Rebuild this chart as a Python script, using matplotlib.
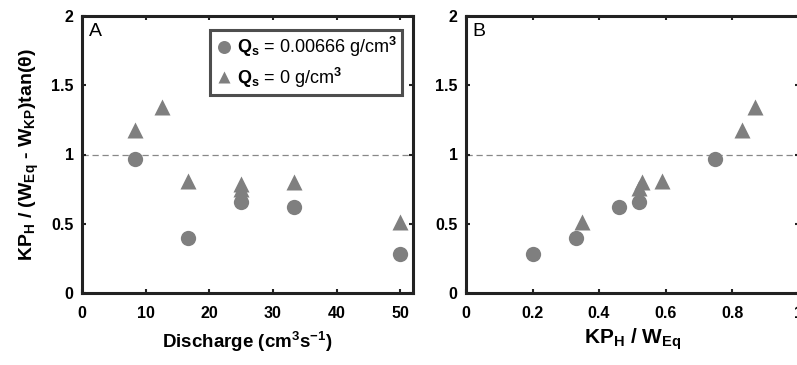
import matplotlib
matplotlib.use("Agg")
import matplotlib.pyplot as plt

plt.rcParams['font.family'] = ['Liberation Sans', 'DejaVu Sans']
plt.rcParams['font.weight'] = 'bold'
plt.rcParams['axes.labelweight'] = 'bold'
plt.rcParams['mathtext.fontset'] = 'custom'
plt.rcParams['mathtext.rm'] = 'Liberation Sans'
plt.rcParams['mathtext.it'] = 'Liberation Sans:bold'
plt.rcParams['mathtext.bf'] = 'Liberation Sans:bold'

# Panel A data: discharge vs ratio
discharge_circ = [8.3, 16.7, 25.0, 33.3, 50.0]
ratio_circ = [0.97, 0.40, 0.66, 0.62, 0.28]
discharge_tri = [8.3, 12.5, 16.7, 25.0, 25.0, 33.3, 50.0]
ratio_tri = [1.18, 1.34, 0.81, 0.79, 0.75, 0.80, 0.51]

# Panel B data: KP_H / W_Eq vs ratio
kpw_circ = [0.20, 0.33, 0.46, 0.52, 0.75]
ratioB_circ = [0.28, 0.40, 0.62, 0.66, 0.97]
kpw_tri = [0.35, 0.52, 0.53, 0.59, 0.83, 0.87]
ratioB_tri = [0.51, 0.76, 0.80, 0.81, 1.18, 1.34]

xticksA = [0, 10, 20, 30, 40, 50]
xticksB = [0, 0.2, 0.4, 0.6, 0.8, 1]
xticklabelsB = ['0', '0.2', '0.4', '0.6', '0.8', '1']
yticks = [0, 0.5, 1, 1.5, 2]
yticklabels = ['0', '0.5', '1', '1.5', '2']

legend_labels = [r'$\mathbf{Q_s}$ = 0.00666 g/cm$^\mathrm{3}$', r'$\mathbf{Q_s}$ = 0 g/cm$^\mathrm{3}$']

grey = '#7f7f7f'
spine_c = '#222222'

fig = plt.figure(figsize=(7.97, 3.65), dpi=100)
axA = fig.add_axes([82/797, 72/365, (413-82)/797, (293-16)/365])
axB = fig.add_axes([466/797, 72/365, (798.5-466)/797, (293-16)/365])

def style(ax):
    for s in ax.spines.values():
        s.set_linewidth(2.2)
        s.set_color(spine_c)
    ax.tick_params(direction='in', length=3, width=1.5, top=True, right=True,
                   labelsize=11.5, color=spine_c)
    ax.tick_params(axis='x', pad=9)
    ax.tick_params(axis='y', pad=6)
    ax.set_ylim(0, 2)
    ax.set_yticks(yticks)
    ax.set_yticklabels(yticklabels)
    ax.axhline(1, color='#888888', lw=0.9, ls=(0, (5, 3)), zorder=1)

def bold_ticks(ax):
    for t in ax.get_xticklabels() + ax.get_yticklabels():
        t.set_fontweight('bold')

ms_c = 11
ms_t = 11
axA.plot(discharge_circ, ratio_circ, 'o', color=grey, ms=ms_c, mec='none', label=legend_labels[0], zorder=3)
axA.plot(discharge_tri, ratio_tri, '^', color=grey, ms=ms_t, mec='none', label=legend_labels[1], zorder=3)
style(axA)
axA.set_xlim(0, 52)
axA.set_xticks(xticksA)
bold_ticks(axA)
axA.set_xlabel(r'Discharge (cm$^\mathbf{3}$s$^\mathbf{-1}$)', fontsize=13.5, fontweight='bold', labelpad=7)
axA.set_ylabel(r'KP$_\mathbf{H}$ / (W$_\mathbf{Eq}$ - W$_\mathbf{KP}$)tan($\mathbf{\theta}$)', fontsize=14,
               fontweight='bold', labelpad=7)
axA.text(0.02, 0.975, 'A', transform=axA.transAxes, fontsize=14, fontweight='normal', va='top', ha='left')
leg = axA.legend(loc='upper right', bbox_to_anchor=(0.967, 0.95), prop={'size': 13, 'weight': 'normal'},
                 frameon=True, fancybox=False, handletextpad=0.2, borderpad=0.3, labelspacing=0.35,
                 handlelength=1.0, markerscale=0.85, borderaxespad=0)
leg.get_frame().set_edgecolor(spine_c)
leg.get_frame().set_linewidth(2.2)

axB.plot(kpw_circ, ratioB_circ, 'o', color=grey, ms=ms_c, mec='none', zorder=3)
axB.plot(kpw_tri, ratioB_tri, '^', color=grey, ms=ms_t, mec='none', zorder=3)
style(axB)
axB.set_xlim(0, 1)
axB.set_xticks(xticksB)
axB.set_xticklabels(xticklabelsB)
bold_ticks(axB)
axB.set_xlabel(r'KP$_\mathbf{H}$ / W$_\mathbf{Eq}$', fontsize=15, fontweight='bold', labelpad=4)
axB.text(0.02, 0.975, 'B', transform=axB.transAxes, fontsize=14, fontweight='normal', va='top', ha='left')

fig.savefig('out.png', dpi=100)
